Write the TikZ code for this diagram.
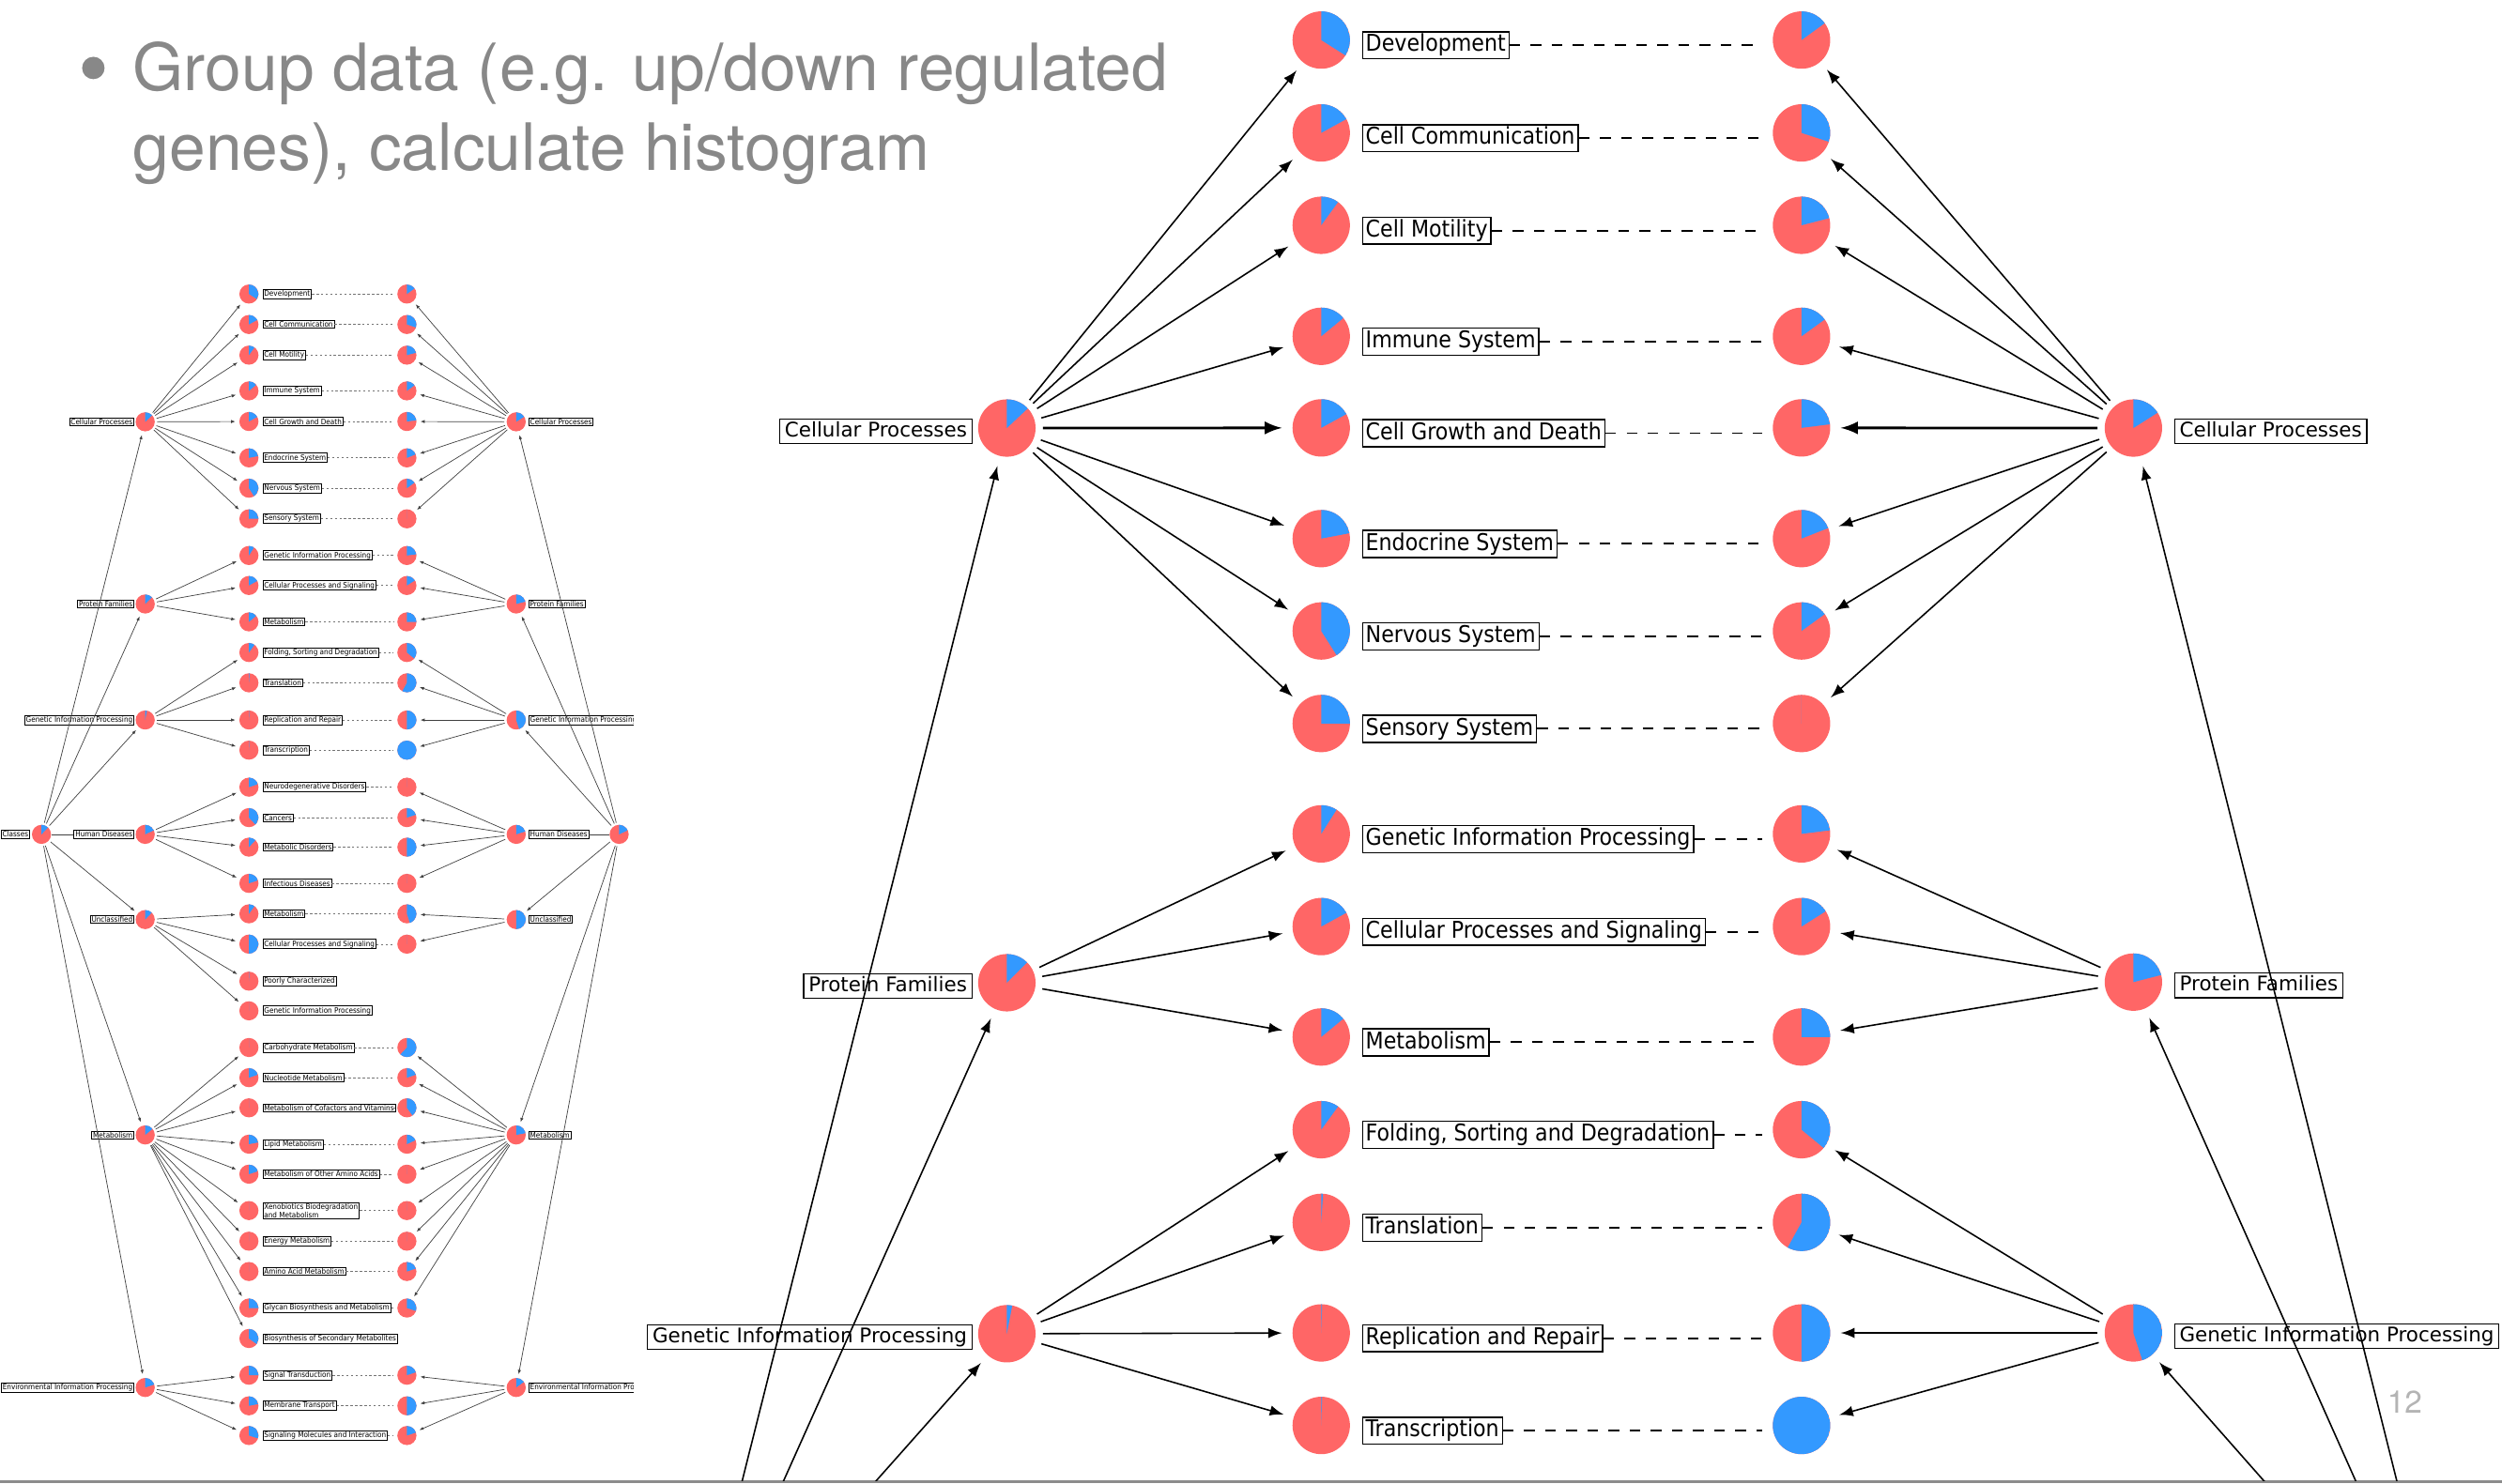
\documentclass[tikz,border=0pt]{standalone}
\usepackage{fontspec}
\setmainfont{TeX Gyre Heros}
\newfontfamily\netfont{DejaVu Sans}
\newfontfamily\netcond{DejaVu Sans Condensed}
\usetikzlibrary{arrows,arrows.meta}
\usetikzlibrary{positioning}

\definecolor{piered}{HTML}{FF6666}
\definecolor{pieblue}{HTML}{3399FF}
\definecolor{slidegrey}{HTML}{888888}
\definecolor{pagegrey}{HTML}{B4B4B4}

\begin{document}
\begin{tikzpicture}
	[
	x=0.017cm, y=-0.017cm,
  > = latex,
  pie/.style 2 args = {circle, inner sep=0pt, minimum size=2*#1, fill=piered,
    path picture={\fill[pieblue] (path picture bounding box.center) -- ++(90:#1)
      arc[start angle=90, delta angle=-360*#2, radius=#1] -- cycle;}},
  conn/.style = {->, line width=0.45pt, shorten <=2pt, shorten >=3pt},
  dashline/.style = {dash pattern=on 3.2pt off 3.2pt, line width=0.55pt, shorten >=3pt},
  midlbl/.style = {draw, line width=0.4pt, inner xsep=1pt, inner ysep=0.6pt, text height=5.4pt, text depth=1.6pt, font=\netcond\fontsize{7}{8}\selectfont},
  hublbl/.style = {draw, line width=0.4pt, inner xsep=1.5pt, inner ysep=0.8pt, text height=4.6pt, text depth=1.3pt, font=\netfont\fontsize{6.1}{7}\selectfont},
  tconn/.style = {-{Latex[length=1.3pt,width=1pt]}, line width=0.2pt, draw=black!75, shorten <=0.5pt, shorten >=1pt},
  tdash/.style = {dash pattern=on 0.7pt off 0.7pt, line width=0.2pt, draw=black!55, shorten >=1pt},
  tlbl/.style = {draw, line width=0.25pt, inner xsep=0.4pt, inner ysep=0.3pt, align=left, font=\netcond\fontsize{2.3}{2.6}\selectfont}
  ]
	\useasboundingbox (0,0) rectangle (1568,930);

	% slide text
	\node[circle, fill=slidegrey, minimum size=6.8pt, inner sep=0pt] (bullet) at (58.5,42.6) {};
	\node[anchor=base west, inner sep=0pt, text=slidegrey, font=\fontsize{19.8}{24}\selectfont] (title1) at (83,57) {Group data (e.g. up/down regulated};
	\node[anchor=base west, inner sep=0pt, text=slidegrey, font=\fontsize{19.8}{24}\selectfont] (title2) at (83,107) {genes), calculate histogram};
	\node[text=pagegrey, font=\fontsize{9.5}{11}\selectfont] (pagenum) at (1507,879) {12};
	\draw[black!45, line width=0.7pt] (0,928.8) -- (1568,928.8);

	% zoomed view
	\begin{scope}
	\clip (400,0) rectangle (1568,928);
	\node[pie={8.7pt}{0.13}]  (hl1) at (631,268.3) {};
	\node[pie={8.7pt}{0.125}] (hl2) at (631,616) {};
	\node[pie={8.7pt}{0.03}]  (hl3) at (631,836) {};
	\node[pie={8.7pt}{0.16}]  (hr1) at (1337,268.3) {};
	\node[pie={8.7pt}{0.21}]  (hr2) at (1337,615.6) {};
	\node[pie={8.7pt}{0.45}]  (hr3) at (1337,835.5) {};
	\node[hublbl, left=1.5pt of hl1, yshift=-1pt]  (hlt1) {Cellular Processes};
	\node[hublbl, left=1.5pt of hl2, yshift=-1pt]  (hlt2) {Protein Families};
	\node[hublbl, left=1.5pt of hl3, yshift=-1pt]  (hlt3) {Genetic Information Processing};
	\node[hublbl, right=3.4pt of hr1, yshift=-1pt] (hrt1) {Cellular Processes};
	\node[hublbl, right=3.4pt of hr2, yshift=-1pt] (hrt2) {Protein Families};
	\node[hublbl, right=3.4pt of hr3, yshift=-1pt] (hrt3) {Genetic Information Processing};

	\coordinate (rootL) at (432,1060);
	\coordinate (rootR) at (1535,1060);
	\foreach \h in {1,2,3} {
		\draw[conn] (rootL) -- (hl\h);
		\draw[conn] (rootR) -- (hr\h);
	}

	\foreach \i/\y/\txt/\lf/\rf/\h/\w in {
		1/25.1/Development/0.34/0.15/1/0.45pt,
		2/83.3/Cell Communication/0.17/0.30/1/0.45pt,
		3/141.2/Cell Motility/0.10/0.21/1/0.45pt,
		4/210.8/Immune System/0.14/0.15/1/0.45pt,
		5/268.2/Cell Growth and Death/0.17/0.23/1/0.8pt,
		6/337.6/Endocrine System/0.22/0.19/1/0.45pt,
		7/395.5/Nervous System/0.41/0.15/1/0.45pt,
		8/453.5/Sensory System/0.25/0/1/0.45pt,
		9/522.7/Genetic Information Processing/0.09/0.23/2/0.45pt,
		10/580.8/Cellular Processes and Signaling/0.17/0.16/2/0.45pt,
		11/650/Metabolism/0.14/0.25/2/0.45pt,
		12/708.1/{Folding, Sorting and Degradation}/0.10/0.36/3/0.45pt,
		13/766.2/Translation/0.01/0.58/3/0.45pt,
		14/835.5/Replication and Repair/0.005/0.5/3/0.45pt,
		15/893.5/Transcription/0.005/1/3/0.45pt} {
		\node[pie={8.7pt}{\lf}] (ml\i) at (828,\y) {};
		\node[pie={8.7pt}{\rf}] (mr\i) at (1129,\y) {};
		\node[midlbl, right=3.4pt of ml\i, yshift=-1.6pt] (mt\i) {\txt};
		\draw[dashline] (mt\i.east) -- (mt\i.east -| mr\i.west);
		\draw[conn, line width=\w] (hl\h) -- (ml\i);
		\draw[conn, line width=\w] (hr\h) -- (mr\i);
	}
	\end{scope}

	% overview
	\begin{scope}
	\clip (0,150) rectangle (397,915);
	\node[pie={2.9pt}{0.12}] (sroL) at (26,523) {};
	\node[pie={2.9pt}{0.18}] (sroR) at (388,523) {};
	\node[tlbl, left=0.4pt of sroL]  (srotL) {Classes};
	\node[tlbl, right=1.2pt of sroR] (srotR) {Classes};

	\foreach \g/\y/\txt/\lf/\rf in {
		1/264.4/Cellular Processes/0.13/0.16,
		2/378.6/Protein Families/0.125/0.21,
		3/451.3/Genetic Information Processing/0.03/0.45,
		4/523/Human Diseases/0.18/0.2,
		5/576.4/Unclassified/0.12/0.5,
		6/711.4/Metabolism/0.14/0.22,
		7/869.7/Environmental Information Processing/0.2/0.15} {
		\node[pie={2.9pt}{\lf}] (shL\g) at (91,\y) {};
		\node[pie={2.9pt}{\rf}] (shR\g) at (323.5,\y) {};
		\node[tlbl, left=0.2pt of shL\g]  (shtL\g) {\txt};
		\node[tlbl, right=0.6pt of shR\g] (shtR\g) {\txt};
	}
	\foreach \g in {1,2,3,5,6,7} {
		\draw[tconn] (sroL) -- (shL\g);
		\draw[tconn] (sroR) -- (shR\g);
	}
	\draw[line width=0.2pt, draw=black!75] (sroL) -- (shtL4);
	\draw[line width=0.2pt, draw=black!75] (sroR) -- (shtR4);

	\foreach \i/\y/\txt/\lf/\rf/\g in {
		1/184.3/Development/0.34/0.15/1,
		2/203.4/Cell Communication/0.17/0.30/1,
		3/222.6/Cell Motility/0.10/0.21/1,
		4/245/Immune System/0.14/0.15/1,
		5/264.2/Cell Growth and Death/0.17/0.23/1,
		6/287/Endocrine System/0.22/0.19/1,
		7/306/Nervous System/0.41/0.15/1,
		8/325.2/Sensory System/0.25/0/1,
		9/348.2/Genetic Information Processing/0.09/0.23/2,
		10/367/Cellular Processes and Signaling/0.17/0.16/2,
		11/389.8/Metabolism/0.14/0.25/2,
		12/409/{Folding, Sorting and Degradation}/0.10/0.36/3,
		13/428/Translation/0.01/0.58/3,
		14/451.3/Replication and Repair/0.005/0.5/3,
		15/470.2/Transcription/0.005/1/3,
		16/493.4/Neurodegenerative Disorders/0.2/0/4,
		17/512.5/Cancers/0.38/0.2/4,
		18/531/Metabolic Disorders/0.12/0.5/4,
		19/553.7/Infectious Diseases/0.2/0/4,
		20/572.8/Metabolism/0.1/0.45/5,
		21/591.8/Cellular Processes and Signaling/0.5/0/5,
		22/615/Poorly Characterized/0.005/-1/5,
		23/633.6/Genetic Information Processing/0/-1/5,
		24/656.6/Carbohydrate Metabolism/0/0.62/6,
		25/675.5/Nucleotide Metabolism/0.2/0.2/6,
		26/694.4/Metabolism of Cofactors and Vitamins/0/0.4/6,
		27/717.2/Lipid Metabolism/0.22/0.18/6,
		28/736/Metabolism of Other Amino Acids/0.2/0/6,
		29/758.8/{Xenobiotics Biodegradation\\and Metabolism}/0/0/6,
		30/778/Energy Metabolism/0/0/6,
		31/797/Amino Acid Metabolism/0/0.2/6,
		32/819.9/Glycan Biosynthesis and Metabolism/0.25/0.3/6,
		33/839/Biosynthesis of Secondary Metabolites/0.35/-1/6,
		34/862/Signal Transduction/0.25/0.2/7,
		35/881.2/Membrane Transport/0.22/0.5/7,
		36/899.8/Signaling Molecules and Interaction/0.3/0.2/7} {
		\node[pie={2.9pt}{\lf}] (sa\i) at (156,\y) {};
		\node[tlbl, right=1pt of sa\i] (st\i) {\txt};
		\draw[tconn] (shL\g) -- (sa\i);
		\ifdim \rf pt<0pt \else
			\node[pie={2.9pt}{\rf}] (sb\i) at (255,\y) {};
			\draw[tdash] (st\i.east) -- (st\i.east -| sb\i.west);
			\draw[tconn] (shR\g) -- (sb\i);
		\fi
	}
	\end{scope}

\end{tikzpicture}
\end{document}
